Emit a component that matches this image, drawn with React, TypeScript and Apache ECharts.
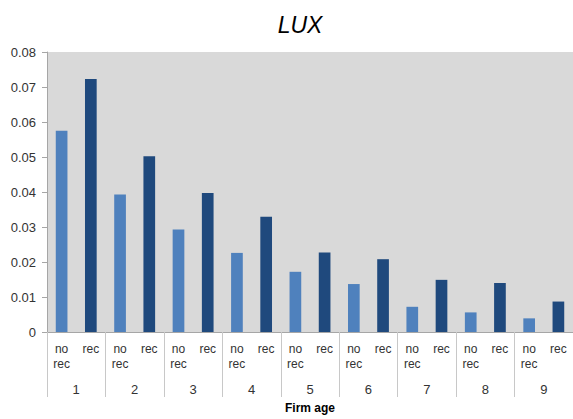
import React, { useEffect, useRef } from "react";
import * as echarts from "echarts";

const ages = ["1", "2", "3", "4", "5", "6", "7", "8", "9"];
const subLabels = ["no\nrec", "rec"];
const noRec = [0.0575, 0.0393, 0.0293, 0.0226, 0.0172, 0.0137, 0.0072, 0.0056, 0.0039];
const rec = [0.0723, 0.0502, 0.0397, 0.0329, 0.0227, 0.0208, 0.0149, 0.014, 0.0087];
const yTicks = [0, 0.01, 0.02, 0.03, 0.04, 0.05, 0.06, 0.07, 0.08];

const colorNoRec = "#4f81bd";
const colorRec = "#1f497d";

export default function App() {
  const ref = useRef<HTMLDivElement>(null);
  useEffect(() => {
    if (!ref.current) return;
    const chart = echarts.init(ref.current, null, { renderer: "svg" });
    const cats: string[] = [];
    const data: any[] = [];
    ages.forEach((a, i) => {
      cats.push(subLabels[0]);
      data.push({ value: noRec[i], itemStyle: { color: colorNoRec } });
      cats.push(subLabels[1]);
      data.push({ value: rec[i], itemStyle: { color: colorRec } });
    });
    chart.setOption({
      animation: false,
      title: {
        text: "LUX",
        left: 295,
        textAlign: "center",
        top: 8,
        textStyle: {
          fontFamily: "Liberation Sans, Arial",
          fontStyle: "italic",
          fontWeight: "normal",
          fontSize: 23,
          color: "#000",
        },
      },
      grid: {
        left: 47,
        right: 0,
        top: 52,
        bottom: 86,
        show: true,
        backgroundColor: "#d9d9d9",
        borderWidth: 0,
      },
      xAxis: [
        {
          type: "category",
          data: cats,
          position: "bottom",
          axisLine: { show: true, lineStyle: { color: "#a6a6a6" } },
          axisTick: { show: false },
          axisLabel: {
            interval: 0,
            margin: 9,
            lineHeight: 15,
            fontSize: 12,
            color: "#333",
            fontFamily: "Liberation Sans, Arial",
          },
        },
        {
          type: "category",
          data: ages,
          position: "bottom",
          axisLine: { show: false },
          axisTick: {
            show: true,
            interval: 0,
            length: 65,
            lineStyle: { color: "#c8c8c8" },
          },
          axisLabel: {
            interval: 0,
            margin: 51,
            fontSize: 13,
            color: "#333",
            fontFamily: "Liberation Sans, Arial",
          },
          name: "Firm age",
          nameLocation: "middle",
          nameGap: 70,
          nameTextStyle: {
            fontWeight: "bold",
            fontSize: 12,
            color: "#000",
            fontFamily: "Liberation Sans, Arial",
            verticalAlign: "top",
          },
        },
      ],
      yAxis: {
        type: "value",
        min: 0,
        max: 0.08,
        interval: 0.01,
        splitLine: { show: false },
        axisLine: { show: true, lineStyle: { color: "#a6a6a6" } },
        axisTick: { show: true, length: 5, lineStyle: { color: "#a6a6a6" } },
        axisLabel: {
          margin: 11,
          fontSize: 13,
          color: "#333",
          fontFamily: "Liberation Sans, Arial",
          formatter: (v: number) => {
            const t = yTicks.find((x) => Math.abs(x - v) < 1e-9);
            const val = t === undefined ? v : t;
            return val === 0 ? "0" : val.toFixed(2);
          },
        },
      },
      series: [
        {
          type: "bar",
          xAxisIndex: 0,
          data,
          barWidth: "40%",
        },
      ],
    });
    return () => chart.dispose();
  }, []);
  return <div ref={ref} style={{ width: 573, height: 419, position: "absolute", left: 0, top: 0 }} />;
}
